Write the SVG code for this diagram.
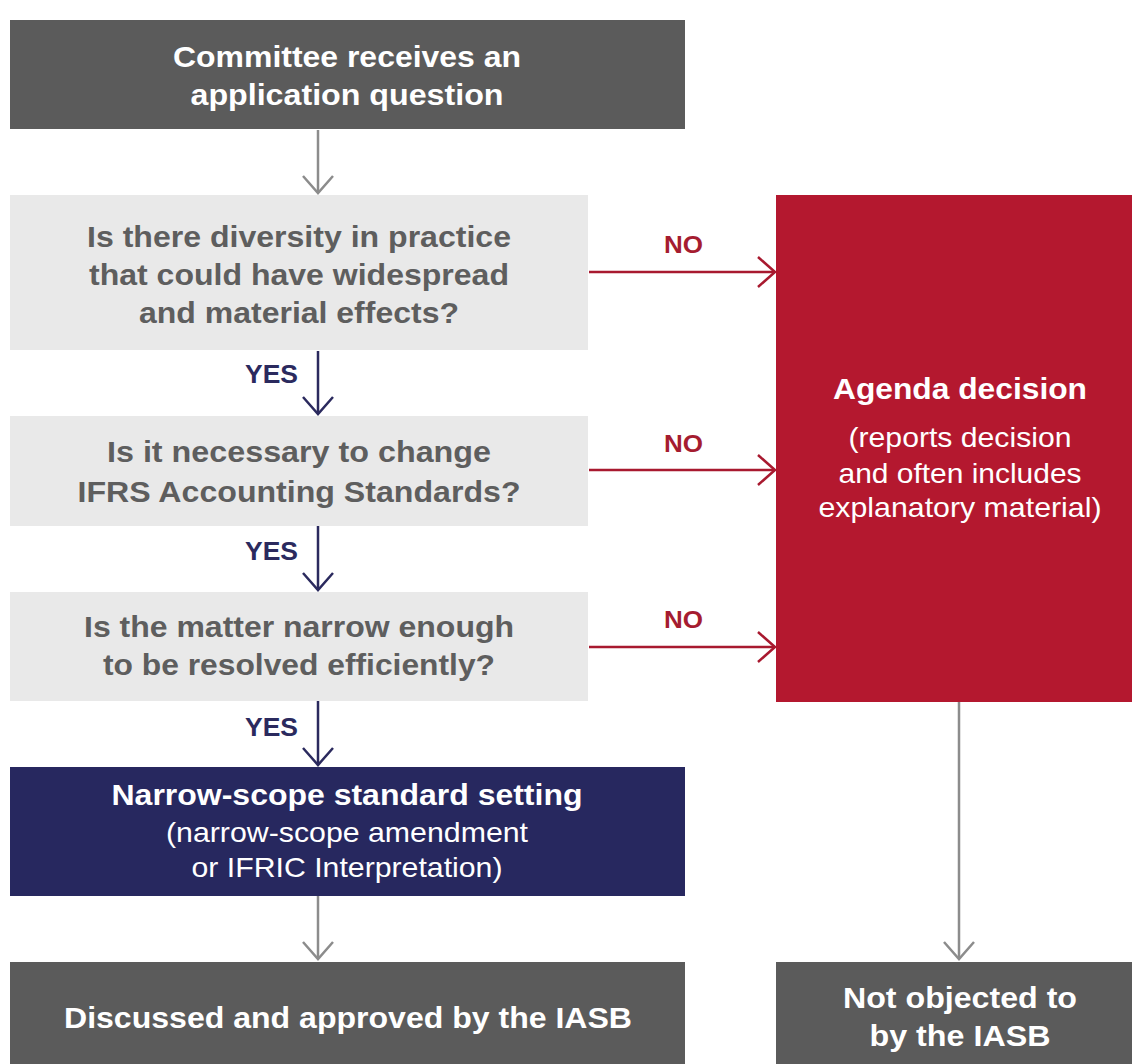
<svg xmlns="http://www.w3.org/2000/svg" width="1132" height="1064" viewBox="0 0 1132 1064">
<defs>
<style>
.t{font-family:"Liberation Sans",Arial,sans-serif;text-anchor:middle}
.b{font-weight:bold}
.m{font-size:30px}
.r{font-size:28px}
.w{fill:#ffffff}
.g{fill:#5e5e5e}
.dark{fill:#5b5b5b}
.light{fill:#e9e9e9}
.red{fill:#b4182f}
.navy{fill:#27285f}
.cg{stroke:#8c8c8c;stroke-width:2.5;fill:none}
.cn{stroke:#2b2a5e;stroke-width:2.5;fill:none}
.cr{stroke:#a8192f;stroke-width:2.5;fill:none}
.yes{fill:#2b2a5e;font-size:25px}
.no{fill:#a51c30;font-size:23px}
</style>
<marker id="mg" markerUnits="userSpaceOnUse" markerWidth="22" markerHeight="34" refX="18" refY="16" orient="auto" viewBox="0 0 22 34"><path d="M1,1 L18,16 L1,31" fill="none" stroke="#8c8c8c" stroke-width="2.5"/></marker>
<marker id="mn" markerUnits="userSpaceOnUse" markerWidth="22" markerHeight="34" refX="18" refY="16" orient="auto" viewBox="0 0 22 34"><path d="M1,1 L18,16 L1,31" fill="none" stroke="#2b2a5e" stroke-width="2.5"/></marker>
<marker id="mr" markerUnits="userSpaceOnUse" markerWidth="22" markerHeight="34" refX="18" refY="16" orient="auto" viewBox="0 0 22 34"><path d="M1,1 L18,16 L1,31" fill="none" stroke="#a8192f" stroke-width="2.5"/></marker>
</defs>
<rect width="1132" height="1064" fill="#ffffff"/>
<g id="connectors">
<line class="cg" x1="318" y1="130" x2="318" y2="193" marker-end="url(#mg)"/>
<line class="cn" x1="318" y1="351" x2="318" y2="414" marker-end="url(#mn)"/>
<line class="cn" x1="318" y1="526" x2="318" y2="590" marker-end="url(#mn)"/>
<line class="cn" x1="318" y1="701" x2="318" y2="765" marker-end="url(#mn)"/>
<line class="cg" x1="318" y1="896" x2="318" y2="959" marker-end="url(#mg)"/>
<line class="cg" x1="959" y1="702" x2="959" y2="959" marker-end="url(#mg)"/>
<line class="cr" x1="589" y1="272" x2="775" y2="272" marker-end="url(#mr)"/>
<line class="cr" x1="589" y1="470" x2="775" y2="470" marker-end="url(#mr)"/>
<line class="cr" x1="589" y1="647" x2="775" y2="647" marker-end="url(#mr)"/>
<text class="t b yes" x="271.5" y="383" textLength="53" lengthAdjust="spacingAndGlyphs">YES</text>
<text class="t b yes" x="271.5" y="560" textLength="53" lengthAdjust="spacingAndGlyphs">YES</text>
<text class="t b yes" x="271.5" y="736" textLength="53" lengthAdjust="spacingAndGlyphs">YES</text>
<text class="t b no" x="683.5" y="253" textLength="39" lengthAdjust="spacingAndGlyphs">NO</text>
<text class="t b no" x="683.5" y="452" textLength="39" lengthAdjust="spacingAndGlyphs">NO</text>
<text class="t b no" x="683.5" y="628" textLength="39" lengthAdjust="spacingAndGlyphs">NO</text>
</g>
<g id="start">
<rect class="dark" x="10" y="20" width="675" height="109"/>
<text class="t b w m" x="347" y="67" textLength="348" lengthAdjust="spacingAndGlyphs">Committee receives an</text>
<text class="t b w m" x="347" y="105" textLength="313" lengthAdjust="spacingAndGlyphs">application question</text>
</g>
<g id="q1">
<rect class="light" x="10" y="195" width="578" height="155"/>
<text class="t b g m" x="299" y="247" textLength="424" lengthAdjust="spacingAndGlyphs">Is there diversity in practice</text>
<text class="t b g m" x="299" y="285" textLength="420" lengthAdjust="spacingAndGlyphs">that could have widespread</text>
<text class="t b g m" x="299" y="323" textLength="320" lengthAdjust="spacingAndGlyphs">and material effects?</text>
</g>
<g id="q2">
<rect class="light" x="10" y="416" width="578" height="110"/>
<text class="t b g m" x="299" y="462" textLength="384" lengthAdjust="spacingAndGlyphs">Is it necessary to change</text>
<text class="t b g m" x="299" y="502" textLength="443" lengthAdjust="spacingAndGlyphs">IFRS Accounting Standards?</text>
</g>
<g id="q3">
<rect class="light" x="10" y="592" width="578" height="109"/>
<text class="t b g m" x="299" y="637" textLength="430" lengthAdjust="spacingAndGlyphs">Is the matter narrow enough</text>
<text class="t b g m" x="299" y="675" textLength="392" lengthAdjust="spacingAndGlyphs">to be resolved efficiently?</text>
</g>
<g id="agenda">
<rect class="red" x="776" y="195" width="356" height="507"/>
<text class="t b w m" x="960" y="399" textLength="254" lengthAdjust="spacingAndGlyphs">Agenda decision</text>
<text class="t w r" x="960" y="447" textLength="223" lengthAdjust="spacingAndGlyphs">(reports decision</text>
<text class="t w r" x="960" y="483" textLength="243" lengthAdjust="spacingAndGlyphs">and often includes</text>
<text class="t w r" x="960" y="517" textLength="283" lengthAdjust="spacingAndGlyphs">explanatory material)</text>
</g>
<g id="narrow">
<rect class="navy" x="10" y="767" width="675" height="129"/>
<text class="t b w m" x="347" y="805" textLength="471" lengthAdjust="spacingAndGlyphs">Narrow-scope standard setting</text>
<text class="t w r" x="347" y="842" textLength="362" lengthAdjust="spacingAndGlyphs">(narrow-scope amendment</text>
<text class="t w r" x="347" y="877" textLength="311" lengthAdjust="spacingAndGlyphs">or IFRIC Interpretation)</text>
</g>
<g id="approved">
<rect class="dark" x="10" y="962" width="675" height="102"/>
<text class="t b w m" x="348" y="1028" textLength="568" lengthAdjust="spacingAndGlyphs">Discussed and approved by the IASB</text>
</g>
<g id="notobjected">
<rect class="dark" x="776" y="962" width="356" height="102"/>
<text class="t b w m" x="960" y="1008" textLength="234" lengthAdjust="spacingAndGlyphs">Not objected to</text>
<text class="t b w m" x="960" y="1046" textLength="181" lengthAdjust="spacingAndGlyphs">by the IASB</text>
</g>
</svg>
